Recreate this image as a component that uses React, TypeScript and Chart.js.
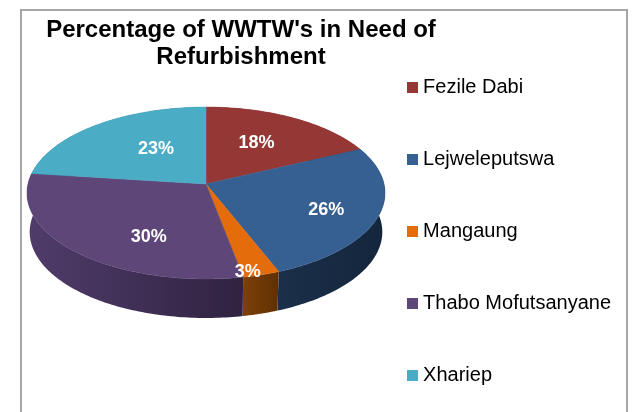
import React, { useEffect, useRef } from "react";
import { Chart, registerables } from "chart.js";

Chart.register(...registerables);

const categories = ["Fezile Dabi", "Lejweleputswa", "Mangaung", "Thabo Mofutsanyane", "Xhariep"];
const percentages = [18, 26, 3, 30, 23];
const topColors = ["#953735", "#376092", "#e46c0a", "#5f4678", "#4bacc6"];
const wallStartColors = ["#5a2120", "#1a2f49", "#7d4008", "#503c6b", "#2c6a7b"];
const wallEndColors = ["#5a2120", "#14263c", "#5f3003", "#2f2340", "#2c6a7b"];
const labelRadius = [0.59, 0.72, 0.96, 0.66, 0.52];
const labelTurn = [-2, 3, 3.5, -16, 7];
const titleLines = ["Percentage of WWTW's in Need of", "Refurbishment"];

const FONT = "'Liberation Sans', Arial, sans-serif";
const view = { cx: 206, cy: 184, a: 178, b: 85, p: 0.105, depth: 39, baseScale: 0.985 };

function project(theta: number, r = 1) {
  const u = Math.sin(theta) * r;
  const v = -Math.cos(theta) * r;
  const w = 1 - view.p * v;
  return { x: view.cx + (view.a * u) / w, y: view.cy + (view.b * v) / w };
}

function rim(start: number, end: number) {
  const n = Math.max(4, Math.ceil(((end - start) * 180) / Math.PI));
  const pts = [];
  for (let i = 0; i <= n; i++) pts.push(project(start + ((end - start) * i) / n));
  return pts;
}

const pie3d = {
  id: "pie3d",
  afterLayout(chart: any) {
    // the title sits centred over the pie and runs past the legend's left edge
    const t = chart.titleBlock;
    t.left = 0;
    t.right = 482;
    t.width = 482;
    const l = chart.legend;
    l.top = 0;
    l.bottom = 462;
    l.height = 462;
  },
  beforeDatasetDraw(chart: any) {
    const ctx = chart.ctx;
    const arcs = chart.getDatasetMeta(0).data;
    const spans = arcs.map((arc: any) => [arc.startAngle + Math.PI / 2, arc.endAngle + Math.PI / 2]);
    ctx.save();
    // side wall
    spans.forEach(([s, e]: number[], i: number) => {
      const pts = rim(s, e);
      const base = pts.map((p) => ({
        x: view.cx + (p.x - view.cx) * view.baseScale,
        y: p.y + view.depth,
      }));
      const xs = pts.map((p) => p.x);
      const g = ctx.createLinearGradient(Math.min(...xs), 0, Math.max(...xs), 0);
      g.addColorStop(0, wallStartColors[i]);
      g.addColorStop(1, wallEndColors[i]);
      ctx.fillStyle = g;
      ctx.beginPath();
      pts.forEach((p, k) => (k ? ctx.lineTo(p.x, p.y) : ctx.moveTo(p.x, p.y)));
      base.reverse().forEach((p) => ctx.lineTo(p.x, p.y));
      ctx.closePath();
      ctx.fill();
    });
    // top face
    spans.forEach(([s, e]: number[], i: number) => {
      ctx.fillStyle = topColors[i];
      ctx.strokeStyle = topColors[i];
      ctx.lineWidth = 0.5;
      ctx.beginPath();
      ctx.moveTo(view.cx, view.cy);
      rim(s, e).forEach((p) => ctx.lineTo(p.x, p.y));
      ctx.closePath();
      ctx.fill();
      ctx.stroke();
    });
    // value labels
    ctx.fillStyle = "#ffffff";
    ctx.font = `bold 18px ${FONT}`;
    ctx.textAlign = "center";
    ctx.textBaseline = "middle";
    spans.forEach(([s, e]: number[], i: number) => {
      const mid = (s + e) / 2 + (labelTurn[i] * Math.PI) / 180;
      const p = project(mid, labelRadius[i]);
      ctx.fillText(`${percentages[i]}%`, p.x, p.y);
    });
    ctx.restore();
    return false;
  },
};

function swatch(color: string) {
  const c = document.createElement("canvas");
  c.width = 11;
  c.height = 11;
  const x = c.getContext("2d")!;
  x.fillStyle = color;
  x.fillRect(0, 0, 11, 11);
  return c;
}

export default function App() {
  const ref = useRef<HTMLCanvasElement>(null);
  useEffect(() => {
    const chart = new Chart(ref.current!, {
      type: "pie",
      data: {
        labels: categories,
        datasets: [{ data: percentages, backgroundColor: topColors, borderWidth: 0 }],
      },
      plugins: [pie3d],
      options: {
        responsive: false,
        animation: false,
        layout: { padding: { left: 0, right: 15, top: 0, bottom: 0 } },
        plugins: {
          tooltip: { enabled: false },
          title: {
            display: true,
            fullSize: false,
            text: titleLines,
            color: "#000000",
            font: { family: FONT, size: 24, weight: "bold", lineHeight: 1.13 },
            padding: { top: 17, bottom: 4 },
          },
          legend: {
            display: true,
            position: "right",
            labels: {
              color: "#1a1a1a",
              font: { family: FONT, size: 20 },
              usePointStyle: true,
              boxWidth: 2,
              padding: 52,
              generateLabels: () =>
                categories.map((text, i) => ({
                  text,
                  fillStyle: topColors[i],
                  strokeStyle: topColors[i],
                  lineWidth: 0,
                  pointStyle: swatch(topColors[i]) as any,
                  index: i,
                  hidden: false,
                })),
            },
          },
        },
      } as any,
    });
    return () => chart.destroy();
  }, []);
  return (
    <div style={{ position: "fixed", left: 0, top: 0, width: 636, height: 412, overflow: "hidden", background: "#fff" }}>
      <div
        style={{
          position: "absolute",
          left: 20,
          top: 9,
          width: 604,
          height: 500,
          border: "2px solid #a6a6a6",
          boxSizing: "content-box",
        }}
      />
      <canvas ref={ref} width={636} height={412} style={{ position: "absolute", left: 0, top: 0, display: "block" }} />
    </div>
  );
}
